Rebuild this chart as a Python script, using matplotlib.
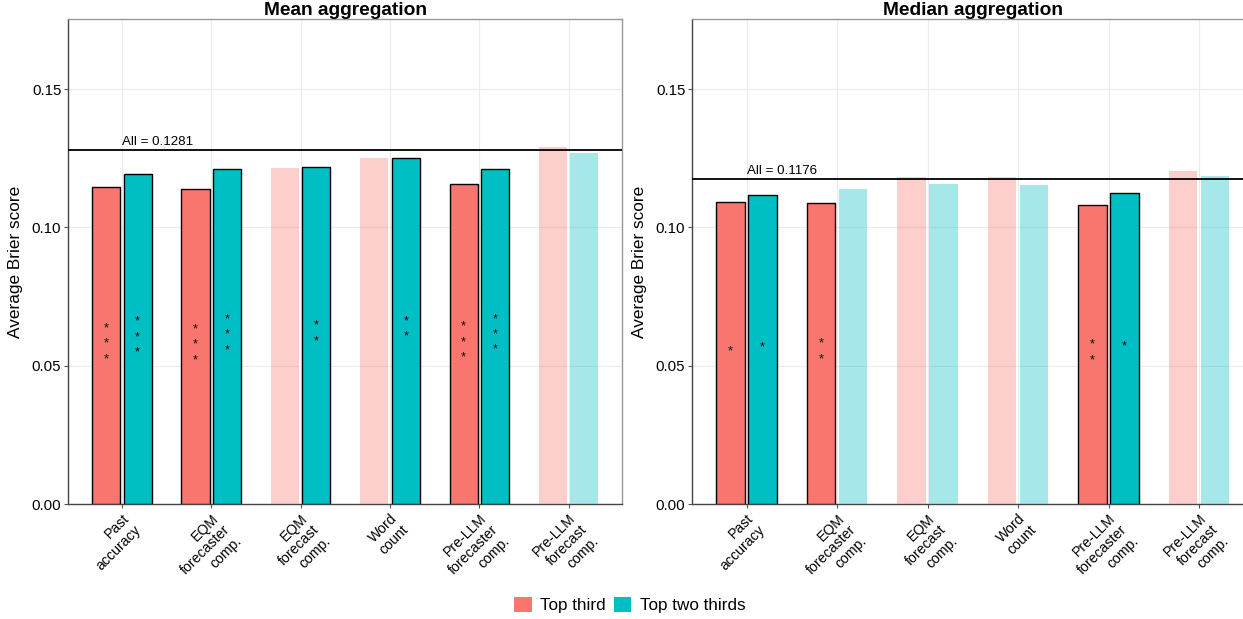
import matplotlib
matplotlib.use("Agg")
import matplotlib.pyplot as plt
import numpy as np
from matplotlib.patches import Patch

plt.rcParams["font.family"] = ["Liberation Sans", "DejaVu Sans"]

# --- data ---
categories = ["Past\naccuracy", "EQM\nforecaster\ncomp.", "EQM\nforecast\ncomp.",
              "Word\ncount", "Pre-LLM\nforecaster\ncomp.", "Pre-LLM\nforecast\ncomp."]
groups = ["Top third", "Top two thirds"]

mean_top_third = [0.1145, 0.1138, 0.1215, 0.1251, 0.1157, 0.1291]
mean_top_two_thirds = [0.1194, 0.1210, 0.1219, 0.1251, 0.1212, 0.1270]
mean_stars_top_third = [3, 3, 0, 0, 3, 0]
mean_stars_top_two_thirds = [3, 3, 2, 2, 3, 0]
mean_all = 0.1281

median_top_third = [0.1092, 0.1090, 0.1181, 0.1182, 0.1082, 0.1203]
median_top_two_thirds = [0.1119, 0.1139, 0.1158, 0.1154, 0.1124, 0.1187]
median_stars_top_third = [1, 2, 0, 0, 2, 0]
median_stars_top_two_thirds = [1, 0, 0, 0, 1, 0]
median_all = 0.1176

colors = ["#F8766D", "#00BFC4"]

W, H = 1243, 619
fig = plt.figure(figsize=(W / 100, H / 100), dpi=100)
fig.patch.set_facecolor("white")

ax_l = fig.add_axes([68.3 / W, 1 - 504.3 / H, 554 / W, 485 / H])
ax_r = fig.add_axes([692.3 / W, 1 - 504.3 / H, 561 / W, 485 / H])


def draw_panel(ax, title, series, stars, all_val):
    x = np.arange(1, len(categories) + 1)
    offsets = [-0.176, 0.176]
    for vals, st, off, col in zip(series, stars, offsets, colors):
        for xi, v, s in zip(x, vals, st):
            if s > 0:
                ax.bar(xi + off, v, width=0.315, color=col, edgecolor="black",
                       linewidth=1.0, zorder=3)
                # significance stars stacked around the bar's mid-height
                for k in range(s):
                    dy = (k - (s - 1) / 2) * 11
                    ax.annotate("*", (xi + off, v / 2), xytext=(0, dy + 1.5),
                                textcoords="offset points", ha="center",
                                va="center", fontsize=9, zorder=4)
            else:
                ax.bar(xi + off, v, width=0.315, color=col, alpha=0.35,
                       linewidth=0, zorder=3)
    ax.axhline(all_val, color="black", linewidth=1.3, zorder=5)
    ax.annotate(f"All = {all_val:.4f}", (1, all_val), xytext=(0, 1.5),
                textcoords="offset points", ha="left", va="bottom", fontsize=9.6)

    ax.set_xlim(0.4, len(categories) + 0.6)
    ax.set_ylim(0, 0.1752)
    ax.set_yticks([0.0, 0.05, 0.10, 0.15])
    ax.set_yticklabels(["0.00", "0.05", "0.10", "0.15"], fontsize=10.8)
    ax.set_xticks(x)
    ax.set_xticklabels(categories, rotation=45, ha="right", va="top",
                       rotation_mode="anchor", multialignment="right", fontsize=10.2)
    ax.tick_params(axis="both", length=3, width=0.8, color="#555555", pad=2)
    ax.grid(True, color="#EBEBEB", linewidth=0.8, zorder=0)
    ax.set_axisbelow(True)
    for side in ["top", "right"]:
        ax.spines[side].set_color("#999999")
        ax.spines[side].set_linewidth(1.0)
    for side in ["left", "bottom"]:
        ax.spines[side].set_color("#444444")
        ax.spines[side].set_linewidth(1.0)
    ax.set_ylabel("Average Brier score", fontsize=12.4, labelpad=6)
    ax.set_title(title, fontsize=13.8, fontweight="bold", pad=-0.8)


draw_panel(ax_l, "Mean aggregation", [mean_top_third, mean_top_two_thirds],
           [mean_stars_top_third, mean_stars_top_two_thirds], mean_all)
draw_panel(ax_r, "Median aggregation", [median_top_third, median_top_two_thirds],
           [median_stars_top_third, median_stars_top_two_thirds], median_all)

handles = [Patch(facecolor=c, edgecolor="none", label=g) for c, g in zip(colors, groups)]
fig.legend(handles=handles, loc="center", bbox_to_anchor=(630 / W, 1 - 605 / H),
           ncol=2, frameon=False, fontsize=12.3, handlelength=1.0, handleheight=1.0,
           handletextpad=0.5, columnspacing=0.5)

fig.savefig("out.png", dpi=100, facecolor="white")
